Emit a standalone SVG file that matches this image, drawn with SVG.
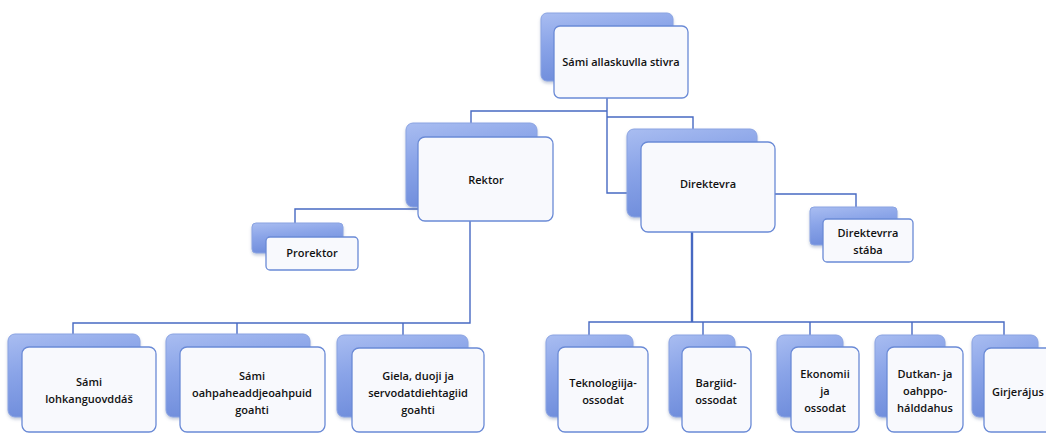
<svg xmlns="http://www.w3.org/2000/svg" width="1046" height="433" viewBox="0 0 1046 433">
<style>
.bk{fill:url(#gb);stroke:#8aa3e2;stroke-width:1;filter:url(#sh)}
.fr{fill:#f8f9fd;stroke:#6a8ad6;stroke-width:1.3}
.t{font-family:"Open Sans","Noto Sans",sans-serif;font-size:11px;font-weight:600;fill:#111;text-anchor:middle}
.c{fill:none;stroke:#4769c2;stroke-width:1.4}
</style>
<defs>
<linearGradient id="gb" x1="0" y1="0" x2="0.3" y2="1">
<stop offset="0" stop-color="#a9bdf1"/>
<stop offset="0.45" stop-color="#8aa4e8"/>
<stop offset="1" stop-color="#6e8cdb"/>
</linearGradient>
<filter id="sh" x="-10%" y="-10%" width="120%" height="130%">
<feGaussianBlur in="SourceAlpha" stdDeviation="1.5"/>
<feOffset dx="0" dy="2" result="b"/>
<feFlood flood-color="#5a6f9c" flood-opacity="0.35"/>
<feComposite in2="b" operator="in"/>
<feMerge><feMergeNode/><feMergeNode in="SourceGraphic"/></feMerge>
</filter>
</defs>
<rect width="1046" height="433" fill="#ffffff"/>
<g id="connectors">
<path class="c" d="M607,98 V193 H627"/>
<path class="c" d="M607,111 H471 V123"/>
<path class="c" d="M607,117 H693 V129"/>
<path class="c" d="M775,194 H856 V207"/>
<path class="c" d="M471,209 H295 V223"/>
<path class="c" d="M470,221 V323 H73 V334 M237,323 V334 M403,323 V335"/>
<path class="c" d="M692,232 V322" style="stroke-width:2.4"/>
<path class="c" d="M589,335 V322 H1004 V335 M703,322 V335 M810,322 V335 M912,322 V335"/>
</g>
<g id="n-stivra">
<rect class="bk" x="541" y="13" width="132" height="68" rx="6"/>
<rect class="fr" x="554" y="26" width="134" height="72" rx="6"/>
<text class="t" x="621" y="66">Sámi allaskuvlla stivra</text>
</g>
<g id="n-rektor">
<rect class="bk" x="406" y="123" width="131" height="84" rx="7"/>
<rect class="fr" x="418" y="137" width="135" height="84" rx="7"/>
<text class="t" x="486" y="184">Rektor</text>
</g>
<g id="n-direktevra">
<rect class="bk" x="627" y="129" width="130" height="88" rx="7"/>
<rect class="fr" x="641" y="142" width="134" height="90" rx="7"/>
<text class="t" x="708" y="188">Direktevra</text>
</g>
<g id="n-prorektor">
<rect class="bk" x="252" y="223" width="91" height="30" rx="4"/>
<rect class="fr" x="266" y="237" width="92" height="33" rx="4"/>
<text class="t" x="312" y="257">Prorektor</text>
</g>
<g id="n-staba">
<rect class="bk" x="810" y="207" width="87" height="38" rx="4"/>
<rect class="fr" x="823" y="219" width="90" height="43" rx="4"/>
<text class="t" x="868" y="237">Direktevrra</text>
<text class="t" x="868" y="254">stába</text>
</g>
<g id="n-lohkan">
<rect class="bk" x="8" y="334" width="132" height="83" rx="7"/>
<rect class="fr" x="22" y="347" width="134" height="85" rx="7"/>
<text class="t" x="89" y="386">Sámi</text>
<text class="t" x="89" y="403">lohkanguovddáš</text>
</g>
<g id="n-oahpa">
<rect class="bk" x="166" y="334" width="144" height="83" rx="7"/>
<rect class="fr" x="180" y="347" width="145" height="85" rx="7"/>
<text class="t" x="252" y="380">Sámi</text>
<text class="t" x="252" y="397">oahpaheaddjeoahpuid</text>
<text class="t" x="252" y="414">goahti</text>
</g>
<g id="n-giela">
<rect class="bk" x="337" y="335" width="131" height="82" rx="7"/>
<rect class="fr" x="352" y="348" width="132" height="84" rx="7"/>
<text class="t" x="418" y="380">Giela, duoji ja</text>
<text class="t" x="418" y="397">servodatdiehtagiid</text>
<text class="t" x="418" y="414">goahti</text>
</g>
<g id="n-tekno">
<rect class="bk" x="546" y="335" width="87" height="82" rx="7"/>
<rect class="fr" x="558" y="347" width="90" height="85" rx="7"/>
<text class="t" x="603" y="387">Teknologiija-</text>
<text class="t" x="603" y="404">ossodat</text>
</g>
<g id="n-bargiid">
<rect class="bk" x="669" y="335" width="66" height="82" rx="7"/>
<rect class="fr" x="682" y="347" width="69" height="85" rx="7"/>
<text class="t" x="716" y="387">Bargiid-</text>
<text class="t" x="716" y="404">ossodat</text>
</g>
<g id="n-ekonomii">
<rect class="bk" x="777" y="335" width="66" height="82" rx="7"/>
<rect class="fr" x="791" y="347" width="68" height="85" rx="7"/>
<text class="t" x="825" y="378">Ekonomii</text>
<text class="t" x="825" y="395">ja</text>
<text class="t" x="825" y="412">ossodat</text>
</g>
<g id="n-dutkan">
<rect class="bk" x="875" y="335" width="70" height="82" rx="7"/>
<rect class="fr" x="887" y="347" width="76" height="85" rx="7"/>
<text class="t" x="925" y="378">Dutkan- ja</text>
<text class="t" x="925" y="395">oahppo-</text>
<text class="t" x="925" y="412">hálddahus</text>
</g>
<g id="n-girje">
<rect class="bk" x="972" y="335" width="66" height="82" rx="7"/>
<rect class="fr" x="984" y="348" width="76" height="84" rx="7"/>
<text class="t" x="992" y="396" style="text-anchor:start">Girjerájus</text>
</g>
</svg>
